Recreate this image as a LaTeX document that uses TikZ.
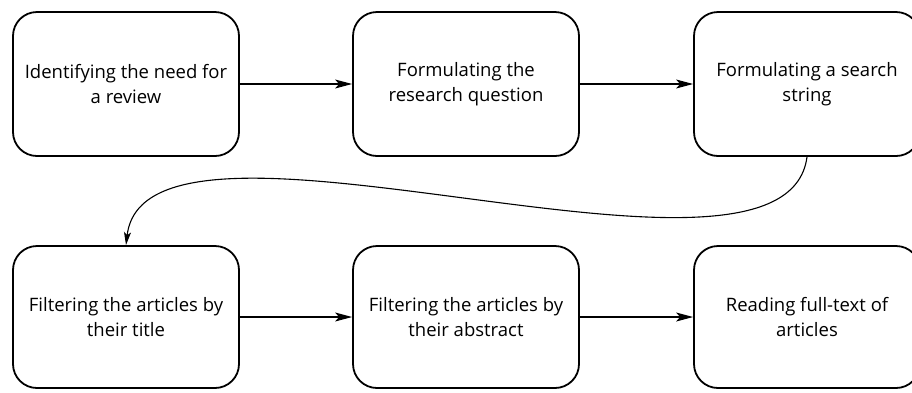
\documentclass[tikz,border=0pt]{standalone}
\usepackage{fontspec}
\setmainfont{Open Sans}
\usetikzlibrary{arrows.meta}
\begin{document}
\begin{tikzpicture}[x=1pt, y=-1pt,
  stage/.style={draw, line width=1.8pt, rounded corners=24pt,
    minimum width=226pt, minimum height=144pt, align=center,
    font=\fontsize{18.5}{25}\selectfont, inner sep=0pt},
  flow/.style={line width=1.1pt, -{Stealth[length=17pt, width=9pt, inset=4pt]}},
  wrapflow/.style={line width=1.1pt, -{Stealth[length=13pt, width=7pt, inset=3pt]}}]
  \useasboundingbox (0,0) rectangle (912,392);

  % top row
  \node[stage] (need)   at (126,84) {Identifying the need for\\a review};
  \node[stage] (rq)     at (466,84) {Formulating the\\research question};
  \node[stage] (search) at (807,84) {Formulating a search\\string};

  % bottom row
  \node[stage, minimum height=142pt] (title)    at (126,317) {Filtering the articles by\\their title};
  \node[stage, minimum height=142pt] (abstract) at (466,317) {Filtering the articles by\\their abstract};
  \node[stage, minimum height=142pt] (full)     at (807,317) {Reading full-text of\\articles};

  % connectors
  \draw[flow] (need) -- (rq);
  \draw[flow] (rq) -- (search);
  \draw[flow] (title) -- (abstract);
  \draw[flow] (abstract) -- (full);
  \draw[wrapflow] (search.south) .. controls +(-22,168) and +(20,-172) .. (title.north);
\end{tikzpicture}
\end{document}
